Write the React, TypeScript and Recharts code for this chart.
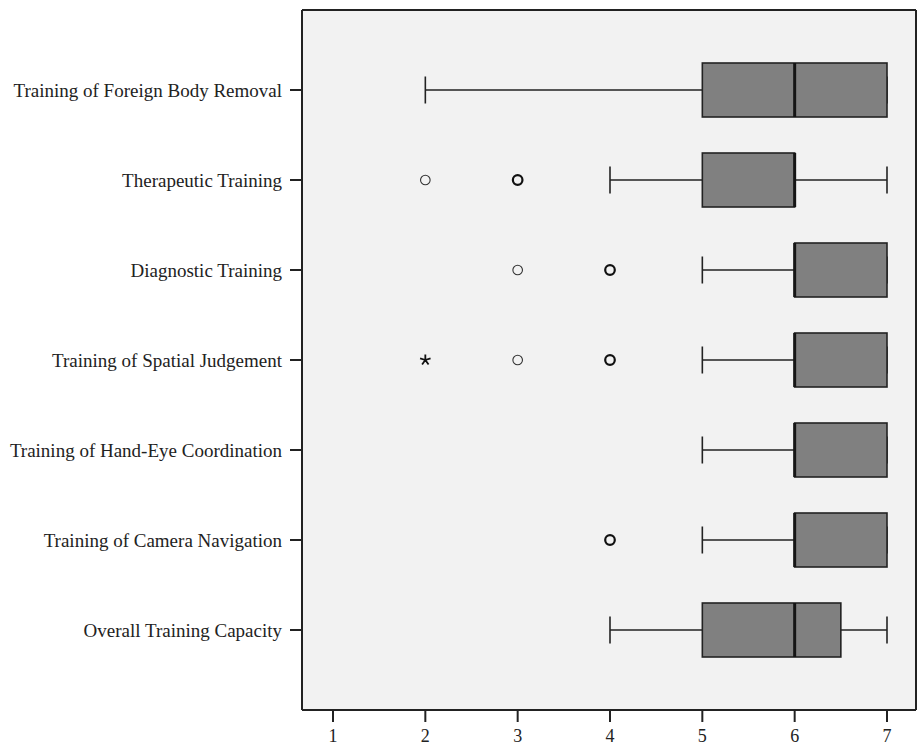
import { Bar, CartesianGrid, ComposedChart, XAxis, YAxis } from "recharts";

const categories = [
  "Training of Foreign Body Removal",
  "Therapeutic Training",
  "Diagnostic Training",
  "Training of Spatial Judgement",
  "Training of Hand-Eye Coordination",
  "Training of Camera Navigation",
  "Overall Training Capacity",
];
const whiskerLow = [2, 4, 5, 5, 5, 5, 4];
const q1 = [5, 5, 6, 6, 6, 6, 5];
const median = [6, 6, 6, 6, 6, 6, 6];
const q3 = [7, 6, 7, 7, 7, 7, 6.5];
const whiskerHigh = [7, 7, 7, 7, 7, 7, 7];
// repeated values = overlapping cases (drawn bolder)
const outliers = [[], [2, 3, 3, 3], [3, 4, 4, 4], [3, 4, 4, 4], [], [4, 4, 4], []];
const extremes = [[], [], [], [2], [], [], []];
const xTicks = [1, 2, 3, 4, 5, 6, 7];

const rows = categories.map((name, i) => {
  const all = [whiskerLow[i], ...outliers[i], ...extremes[i]];
  return {
    name,
    range: [Math.min(...all), whiskerHigh[i]],
    wLow: whiskerLow[i],
    q1: q1[i],
    med: median[i],
    q3: q3[i],
    wHigh: whiskerHigh[i],
    out: outliers[i],
    ext: extremes[i],
  };
});

const ink = "#222";
const serif = "Liberation Serif, Times New Roman, serif";

function BoxShape(props: any) {
  const { x, y, width, height, payload } = props;
  const [lo, hi] = payload.range;
  const px = (v: number) => x + ((v - lo) / (hi - lo)) * width;
  const cy = y + height / 2;
  const cap = 13.5;
  // count overlapping outliers
  const counts: Record<string, number> = {};
  payload.out.forEach((v: number) => (counts[v] = (counts[v] || 0) + 1));
  const starPath = (cx: number, r: number) => {
    let d = "";
    for (let k = 0; k < 5; k++) {
      const a = (-90 + k * 72) * (Math.PI / 180);
      d += `M${cx},${cy} L${cx + r * Math.cos(a)},${cy + r * Math.sin(a)} `;
    }
    return d;
  };
  return (
    <g>
      <line x1={px(payload.wLow)} x2={px(payload.q1)} y1={cy} y2={cy} stroke={ink} strokeWidth={1.4} />
      <line x1={px(payload.q3)} x2={px(payload.wHigh)} y1={cy} y2={cy} stroke={ink} strokeWidth={1.4} />
      <line x1={px(payload.wLow)} x2={px(payload.wLow)} y1={cy - cap} y2={cy + cap} stroke={ink} strokeWidth={1.6} />
      <line x1={px(payload.wHigh)} x2={px(payload.wHigh)} y1={cy - cap} y2={cy + cap} stroke={ink} strokeWidth={1.6} />
      <rect
        x={px(payload.q1)}
        y={y}
        width={px(payload.q3) - px(payload.q1)}
        height={height}
        fill="#808080"
        stroke={ink}
        strokeWidth={1.6}
      />
      <line x1={px(payload.med)} x2={px(payload.med)} y1={y} y2={y + height} stroke="#151515" strokeWidth={3} />
      {Object.keys(counts).map((v) => (
        <circle
          key={"o" + v}
          cx={px(Number(v))}
          cy={cy}
          r={4.8}
          fill="none"
          stroke={counts[v] > 1 ? "#111" : "#333"}
          strokeWidth={counts[v] > 1 ? 2.2 : 1.1}
        />
      ))}
      {payload.ext.map((v: number, k: number) => (
        <path key={"e" + k} d={starPath(px(v), 5.5)} stroke="#111" strokeWidth={1.8} fill="none" />
      ))}
    </g>
  );
}

const edgesH = (args: any) => {
  const o = args.offset || {};
  return [o.top, o.top + o.height];
};
const edgesV = (args: any) => {
  const o = args.offset || {};
  return [o.left, o.left + o.width];
};

export default function App() {
  return (
    <div style={{ position: "absolute", left: 0, top: 0, background: "#fff" }}>
      <ComposedChart
        width={919}
        height={745}
        layout="vertical"
        data={rows}
        margin={{ top: 10, right: 3, left: 0, bottom: 0 }}
      >
        <CartesianGrid
          fill="#f2f2f2"
          stroke={ink}
          strokeWidth={2}
          horizontalCoordinatesGenerator={edgesH}
          verticalCoordinatesGenerator={edgesV}
        />
        <XAxis
          type="number"
          domain={[1, 7]}
          ticks={xTicks}
          interval={0}
          padding={{ left: 31, right: 29 }}
          height={35}
          tickSize={12}
          tickMargin={7}
          tick={{ fontFamily: serif, fontSize: 18, fill: ink }}
          tickLine={{ stroke: ink, strokeWidth: 2 }}
          axisLine={{ stroke: ink, strokeWidth: 2 }}
        />
        <YAxis
          type="category"
          dataKey="name"
          width={302}
          padding={{ top: 35, bottom: 35 }}
          interval={0}
          tickSize={12}
          tickMargin={8}
          tick={{ fontFamily: serif, fontSize: 19, fill: ink }}
          tickLine={{ stroke: ink, strokeWidth: 2 }}
          axisLine={{ stroke: ink, strokeWidth: 2 }}
        />
        <Bar dataKey="range" barSize={54} shape={<BoxShape />} isAnimationActive={false} />
      </ComposedChart>
    </div>
  );
}
